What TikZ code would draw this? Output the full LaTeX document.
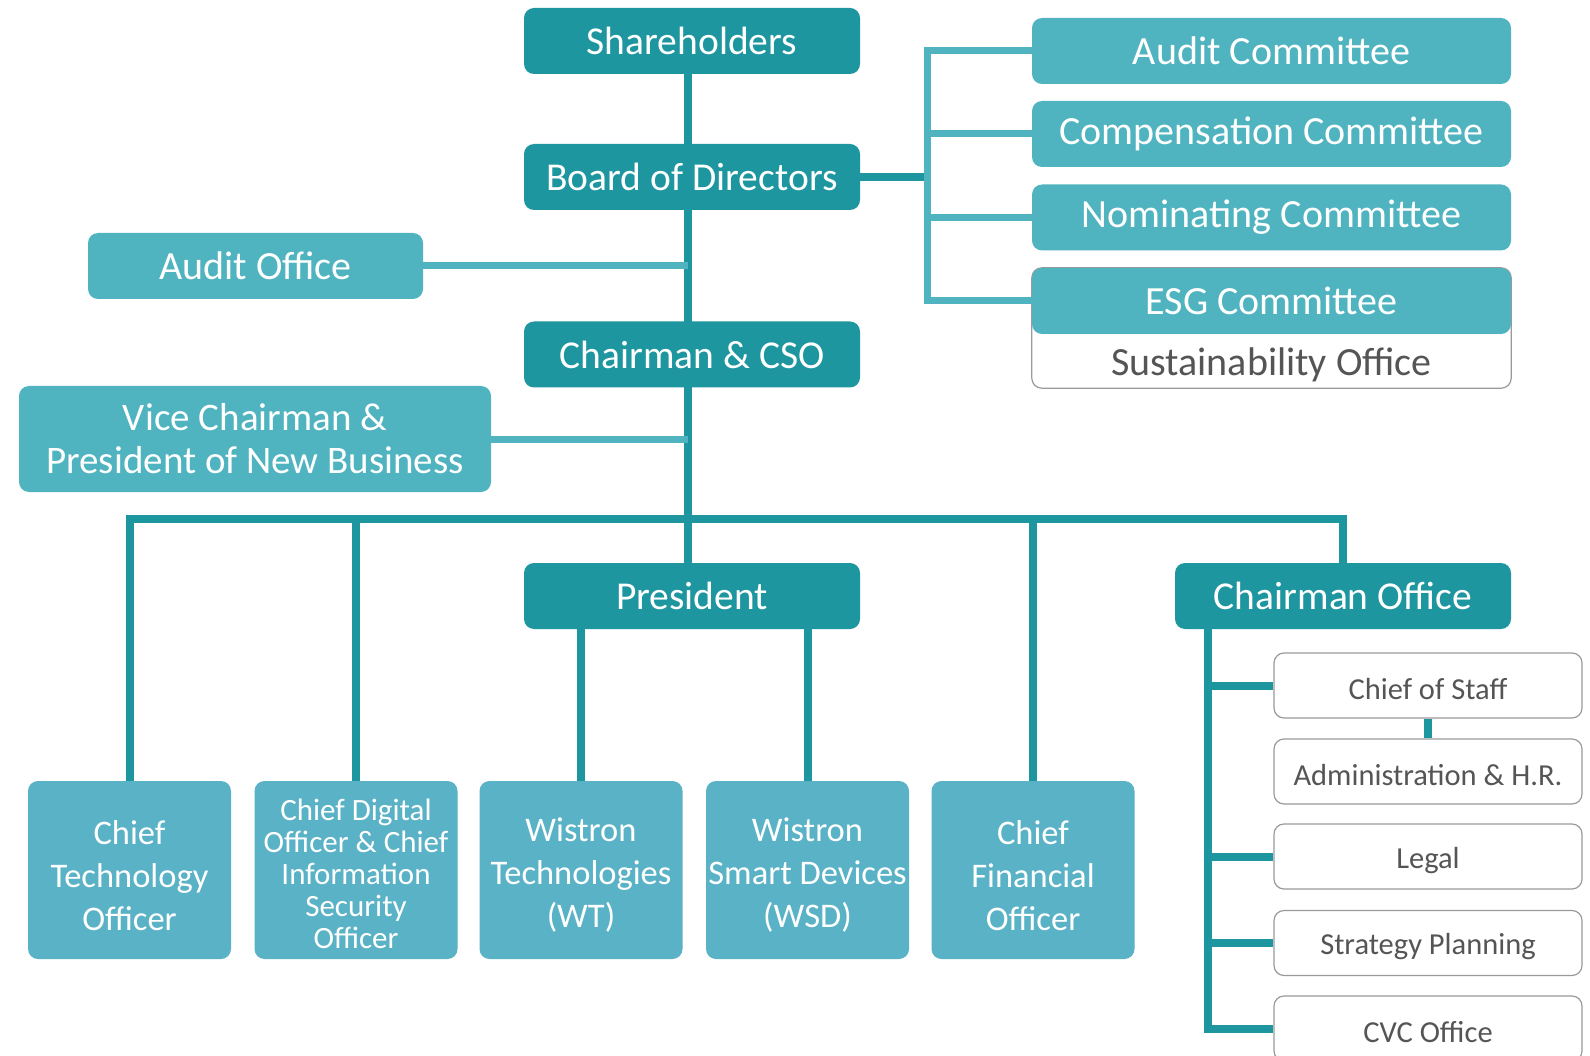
\documentclass[tikz,border=0pt]{standalone}
\usepackage{fontspec}
\setmainfont{Carlito}
\usetikzlibrary{backgrounds,calc}
\definecolor{dk}{HTML}{1E96A0}
\definecolor{lt}{HTML}{50B4C0}
\definecolor{bt}{HTML}{5AB2C6}
\definecolor{tx}{HTML}{555555}
\definecolor{bd}{HTML}{9A9A9A}
\tikzset{
  box/.style={rounded corners=10, inner sep=0, align=center, text=white},
  dkbox/.style={box, fill=dk, minimum width=336, minimum height=66, font=\fontsize{39.5}{44}\selectfont},
  ltbox/.style={box, fill=lt, minimum height=66, font=\fontsize{40}{44}\selectfont},
  btbox/.style={box, fill=bt, minimum width=203, minimum height=178},
  btext/.style={align=center, text=white, inner sep=0, yshift=-5.5, font=\fontsize{34.5}{43}\selectfont},
  subbox/.style={box, draw=bd, line width=1.2, fill=white, minimum width=308, minimum height=65},
  subtext/.style={text=tx, inner sep=0, yshift=-4, font=\fontsize{30.5}{36}\selectfont},
  dkline/.style={draw=dk, line width=8},
  ltline/.style={draw=lt, line width=7},
}
\begin{document}
\begin{tikzpicture}[x=1pt,y=-1pt, line join=miter]
\useasboundingbox (0,0) rectangle (1590,1056);
% main column
\node[dkbox] (sh) at (692,41) {Shareholders};
\node[dkbox] (bod) at (692,177) {Board of Directors};
\node[dkbox] (cso) at (692,354.5) {Chairman \& CSO};
\node[dkbox] (pres) at (692,596) {President};
\node[dkbox] (co) at (1343,596) {Chairman Office};
\node[ltbox, minimum width=335] (ao) at (255.5,266) {Audit Office};
\node[ltbox, minimum width=472, minimum height=106, font=\fontsize{39}{43}\selectfont] (vc) at (255,439) {Vice Chairman \&\\President of New Business};
% committees
\node[ltbox, minimum width=479] (ac) at (1271.5,51) {Audit Committee};
\node[ltbox, minimum width=479] (cc) at (1271.5,134) {Compensation Committee};
\node[ltbox, minimum width=479] (nc) at (1271.5,217.5) {Nominating Committee};
\node[ltbox, minimum width=479] (esg) at (1271.5,301) {ESG Committee};
\node[box, text=tx, minimum width=479, minimum height=54, font=\fontsize{40}{44}\selectfont] (so) at (1271.5,365) {Sustainability Office};
% bottom row
\node[btbox, label={[btext]center:Chief\\Technology\\Officer}] (cto) at (129.5,870) {};
\node[btbox, label={[btext, font=\fontsize{31}{32}\selectfont, yshift=2]center:Chief Digital\\Officer \& Chief\\Information\\Security\\Officer}] (cdo) at (356,870) {};
\node[btbox, label={[btext]center:Wistron\\Technologies\\(WT)}] (wt) at (581,870) {};
\node[btbox, label={[btext]center:Wistron\\Smart Devices\\(WSD)}] (wsd) at (807.5,870) {};
\node[btbox, label={[btext]center:Chief\\Financial\\Officer}] (cfo) at (1033,870) {};
% chairman office items
\node[subbox, label={[subtext]center:Chief of Staff}] (cos) at (1428,685.5) {};
\node[subbox, label={[subtext]center:Administration \& H.R.}] (adm) at (1428,771.5) {};
\node[subbox, label={[subtext]center:Legal}] (leg) at (1428,856.5) {};
\node[subbox, label={[subtext]center:Strategy Planning}] (sp) at (1428,943) {};
\node[subbox, label={[subtext]center:CVC Office}] (cvc) at (1428,1028.5) {};
\coordinate (trunk) at (688,0);
\coordinate (brx) at (927,0);
\coordinate (bus) at (0,519);
\coordinate (cox) at (1208,0);
\begin{scope}[on background layer]
  \fill[white] (0,0) rectangle (1590,1056);
  \draw[draw=bd, line width=1.2, fill=white, rounded corners=10] (esg.north west) rectangle ([yshift=4]so.south east);
  \draw[dkline] (sh.south -| trunk) -- (pres.north -| trunk);
  \draw[ltline] (ao.east) -- (ao.east -| trunk);
  \draw[ltline] (vc.east) -- (vc.east -| trunk);
  \draw[dkline] (bod.east) -- (bod.east -| brx);
  \draw[ltline] (ac.west) -- (ac.west -| brx) -- (esg.west -| brx) -- (esg.west);
  \draw[ltline] (cc.west) -- (cc.west -| brx);
  \draw[ltline] (nc.west) -- (nc.west -| brx);
  \draw[dkline] (cto.north) -- (cto.north |- bus) -- (co.north |- bus) -- (co.north);
  \draw[dkline] (cdo.north) -- (cdo.north |- bus);
  \draw[dkline] (cfo.north) -- (cfo.north |- bus);
  \draw[dkline] (pres.south -| wt.north) -- (wt.north);
  \draw[dkline] (pres.south -| wsd.north) -- (wsd.north);
  \draw[dkline] (co.south -| cox) -- (cvc.west -| cox) -- (cvc.west);
  \draw[dkline] (cos.west -| cox) -- (cos.west);
  \draw[dkline] (leg.west -| cox) -- (leg.west);
  \draw[dkline] (sp.west -| cox) -- (sp.west);
  \draw[dkline] (cos.south) -- (adm.north);
\end{scope}
\end{tikzpicture}
\end{document}
